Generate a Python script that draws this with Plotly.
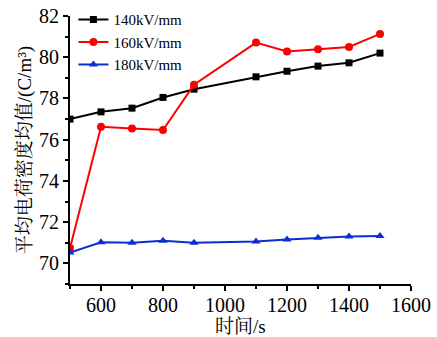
import plotly.graph_objects as go

time_s = [500, 600, 700, 800, 900, 1100, 1200, 1300, 1400, 1500]
v140 = [77.0, 77.35, 77.53, 78.05, 78.45, 79.05, 79.32, 79.57, 79.73, 80.2]
v160 = [70.75, 76.63, 76.54, 76.47, 78.67, 80.71, 80.28, 80.39, 80.5, 81.13]
v180 = [70.53, 71.02, 71.0, 71.1, 71.0, 71.06, 71.16, 71.24, 71.3, 71.33]
names = ["140kV/mm", "160kV/mm", "180kV/mm"]

serif = "Liberation Serif, Times New Roman, Noto Serif CJK SC, Noto Sans CJK SC, serif"

fig = go.Figure()
fig.add_trace(go.Scatter(x=time_s, y=v140, name=names[0], mode="lines+markers",
                         line=dict(color="#000000", width=2),
                         marker=dict(symbol="square", size=7, color="#000000")))
fig.add_trace(go.Scatter(x=time_s, y=v160, name=names[1], mode="lines+markers",
                         line=dict(color="#ff0000", width=2),
                         marker=dict(symbol="circle", size=8, color="#ff0000")))
fig.add_trace(go.Scatter(x=time_s, y=v180, name=names[2], mode="lines+markers",
                         line=dict(color="#0a2ecf", width=2),
                         marker=dict(symbol="triangle-up", size=8, color="#0a2ecf")))

fig.update_layout(
    width=437, height=337,
    margin=dict(l=70, r=26, t=16, b=53, autoexpand=False),
    paper_bgcolor="white", plot_bgcolor="white",
    font=dict(family=serif, color="black", size=20),
    showlegend=True,
    legend=dict(x=0.01, y=0.99, xanchor="left", yanchor="top",
                xref="paper", yref="container",
                font=dict(size=15, family=serif), bgcolor="rgba(0,0,0,0)",
                tracegroupgap=0, itemwidth=30),
    xaxis=dict(range=[500, 1600], tick0=0, dtick=200, showline=True,
               linecolor="black", linewidth=2, ticks="outside", ticklen=5,
               tickwidth=1.5, tickcolor="black", showgrid=False, zeroline=False,
               minor=dict(dtick=100, ticks="outside", ticklen=3, tickcolor="black", tickwidth=1.5),
               ticklabelstandoff=-3,
               tickfont=dict(size=20)),
    yaxis=dict(range=[69, 82], tick0=70, dtick=2, showline=True,
               linecolor="black", linewidth=2, ticks="outside", ticklen=5,
               tickwidth=1.5, tickcolor="black", showgrid=False, zeroline=False,
               minor=dict(dtick=1, ticks="outside", ticklen=3, tickcolor="black", tickwidth=1.5),
               title=dict(text="平均电荷密度均值/(C/m³)", font=dict(size=19, family=serif), standoff=2),
               tickfont=dict(size=20)),
    annotations=[dict(text="时间/s", xref="paper", yref="paper", x=0.5, y=-0.16,
                      xanchor="center", yanchor="middle", showarrow=False,
                      font=dict(size=19, family=serif, color="black"))],
)

fig.write_html("out.html")
